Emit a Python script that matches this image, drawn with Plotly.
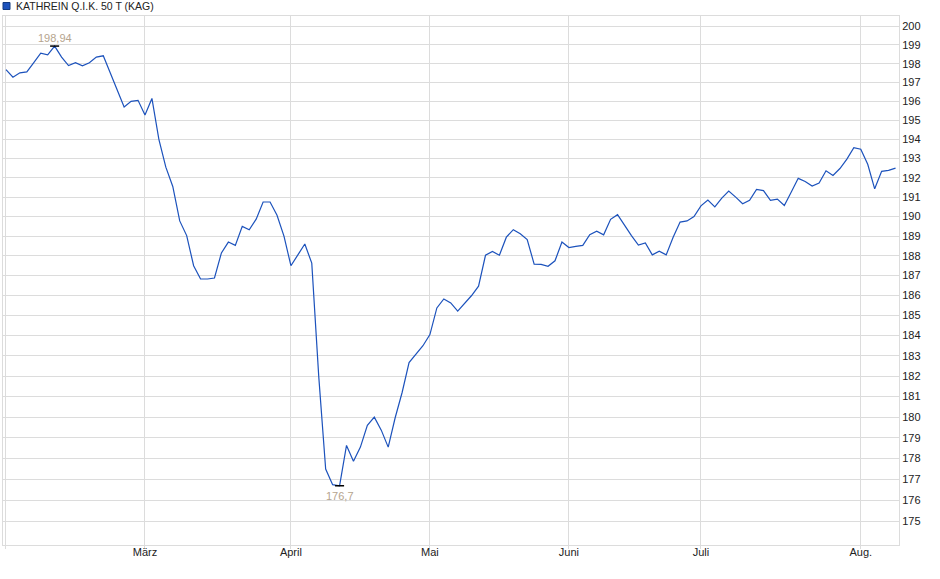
import math
import plotly.graph_objects as go

series_name = "KATHREIN Q.I.K. 50 T (KAG)"

values = [
    197.68, 197.28, 197.51, 197.56, 198.05, 198.56, 198.47, 198.94, 198.35, 197.90,
    198.05, 197.88, 198.05, 198.35, 198.42, 197.50, 196.60, 195.70, 196.00, 196.05,
    195.28, 196.15, 194.00, 192.55, 191.55, 189.78, 189.03, 187.50, 186.83, 186.83,
    186.88, 188.15, 188.70, 188.53, 189.50, 189.33, 189.87, 190.75, 190.75, 190.07,
    189.00, 187.50, 188.05, 188.60, 187.63, 182.00, 177.50, 176.75, 176.70, 178.63,
    177.87, 178.55, 179.60, 180.00, 179.37, 178.55, 179.97, 181.20, 182.67, 183.10,
    183.50, 184.05, 185.38, 185.83, 185.63, 185.22, 185.63, 186.00, 186.47, 188.03,
    188.22, 188.03, 188.95, 189.33, 189.12, 188.83, 187.58, 187.57, 187.47, 187.75,
    188.70, 188.42, 188.48, 188.53, 189.08, 189.25, 189.07, 189.86, 190.10, 189.55,
    189.03, 188.55, 188.66, 188.05, 188.24, 188.05, 188.95, 189.72, 189.78, 190.00,
    190.55, 190.85, 190.50, 190.95, 191.31, 191.00, 190.66, 190.84, 191.40, 191.34,
    190.83, 190.90, 190.57, 191.26, 191.97, 191.81, 191.57, 191.73, 192.36, 192.12,
    192.48, 192.97, 193.57, 193.48, 192.70, 191.43, 192.33, 192.38, 192.50,
]

# first trading day index of each month and its label
month_idx = [0, 20, 41, 61, 81, 100, 123]
month_labels = ["", "März", "April", "Mai", "Juni", "Juli", "Aug."]

y_ticks = list(range(175, 201))

x = list(range(len(values)))

LINE = "#1c52bc"
GRID = "#dcdcdc"
ANN = "#b5a48e"
FONT = "Liberation Sans, Arial, sans-serif"

fig = go.Figure()
fig.add_trace(go.Scatter(x=x, y=values, mode="lines",
                         line=dict(color=LINE, width=1.2),
                         hoverinfo="skip", showlegend=False))

imax = max(range(len(values)), key=lambda i: values[i])
imin = min(range(len(values)), key=lambda i: values[i])
for i in (imax, imin):
    fig.add_trace(go.Scatter(x=[i - 0.65, i + 0.65], y=[values[i], values[i]],
                             mode="lines", line=dict(color="black", width=1.5),
                             hoverinfo="skip", showlegend=False))

def fmt(v):
    s = ("%.2f" % v).rstrip("0").rstrip(".")
    return s.replace(".", ",")

fig.add_annotation(x=imax, y=math.log10(values[imax]), text=fmt(values[imax]),
                   showarrow=False, yshift=8, font=dict(color=ANN, size=11, family=FONT))
fig.add_annotation(x=imin, y=math.log10(values[imin]), text=fmt(values[imin]),
                   showarrow=False, yshift=-10, font=dict(color=ANN, size=11, family=FONT))

# legend: square + name
fig.add_shape(type="rect", xref="paper", yref="paper",
              x0=0.0, x1=7 / 896, y0=(545 - 9.5) / 529, y1=(545 - 2.5) / 529,
              fillcolor=LINE, line=dict(color="#123a80", width=1))
fig.add_annotation(xref="paper", yref="paper", x=11 / 896, y=(545 - 6.5) / 529,
                   xanchor="left", yanchor="middle", text=series_name, showarrow=False,
                   font=dict(color="#222222", size=10.5, family=FONT))

fig.update_layout(
    width=940, height=579,
    margin=dict(l=3, r=41, t=16, b=34),
    paper_bgcolor="white", plot_bgcolor="white",
    font=dict(family=FONT, size=11, color="#222222"),
    showlegend=False,
    xaxis=dict(range=[-0.43, 128.5], tickmode="array", tickvals=month_idx,
               ticktext=month_labels, showgrid=True, gridcolor=GRID, gridwidth=1,
               zeroline=False, showline=True, linecolor=GRID, mirror=True,
               ticks="outside", ticklen=3, tickcolor=GRID, ticklabelstandoff=-6,
               fixedrange=True),
    yaxis=dict(type="log", range=[math.log10(173.9), math.log10(200.56)],
               side="right", tickmode="array", tickvals=y_ticks,
               ticktext=[str(v) for v in y_ticks], showgrid=True, gridcolor=GRID,
               zeroline=False, showline=True, linecolor=GRID, mirror=True,
               ticks="", fixedrange=True),
)

fig.write_html("out.html", config={"displayModeBar": False},
               post_script="document.body.style.margin='0';document.body.style.overflow='hidden';")
